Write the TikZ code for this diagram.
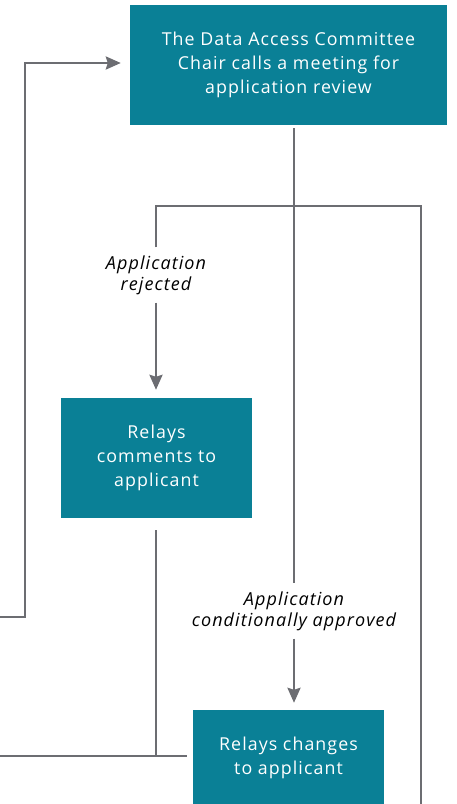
\documentclass[tikz,border=0pt]{standalone}
\usepackage{fontspec}
\setmainfont{Open Sans}[LetterSpace=6]
\usetikzlibrary{arrows.meta}

\begin{document}
\begin{tikzpicture}[x=1pt, y=-1pt,
	font=\fontsize{17.8}{24}\selectfont,
	stepbox/.style={fill=dacTeal, text=white, align=center, inner sep=0pt, minimum height=120pt},
	tag/.style={font=\fontsize{18}{21}\selectfont\itshape, align=center, inner sep=8pt},
	link/.style={draw=lineGray, line width=2.6pt},
	flow/.style={link, -{Stealth[length=15pt, width=13pt, inset=2pt]}}]
		
		\def\W{457} % Width of the picture
		
		\def\H{804} % Height of the picture
		
		% Define colors
		
		\definecolor{dacTeal}{RGB}{10,128,150}
		
		\definecolor{lineGray}{RGB}{108,109,114}
		
		% Fix the frame
		
		\useasboundingbox (0,0) rectangle (\W,\H);
		
		% Draw the three boxes
		
		\node[stepbox, minimum width=317pt] (meet) at (288.5,65) {The Data Access Committee\\Chair calls a meeting for\\application review};
		
		\node[stepbox, minimum width=191pt] (comments) at (156.5,458) {Relays\\comments to\\applicant};
		
		\node[stepbox, minimum width=191pt, minimum height=96pt] (changes) at (288.5,758) {Relays changes\\to applicant};
		
		% Position the branch labels
		
		\node[tag] (rejected) at (156,275) {Application\\rejected};
		
		\node[tag] (approved) at (294,611) {Application\\conditionally approved};
		
		% Points where the lines meet or leave the frame
		
		\coordinate (split) at (294,206);
		
		\coordinate (farEnd) at (421,810);
		
		\coordinate (backIn) at (0,617);
		
		\coordinate (leftOut) at (0,756);
		
		% Draw the connectors
		
		\draw[link, shorten <=3pt] (meet.south -| approved) -- (approved.north);
		
		\draw[flow, shorten >=7pt] (approved.south) -- (changes.north -| approved);
		
		\draw[link] (rejected.north) |- (split) -| (farEnd);
		
		\draw[flow, shorten >=8pt] (rejected.south) -- (comments.north -| rejected);
		
		\draw[link, shorten <=12pt] (comments.south -| rejected) -- (rejected |- leftOut);
		
		\draw[link, shorten >=6pt] (leftOut) -- (changes.west |- leftOut);
		
		\draw[flow, shorten >=9pt] (backIn) -- ++(25,0) |- ([yshift=2pt]meet.west);
		
	\end{tikzpicture}
\end{document}
